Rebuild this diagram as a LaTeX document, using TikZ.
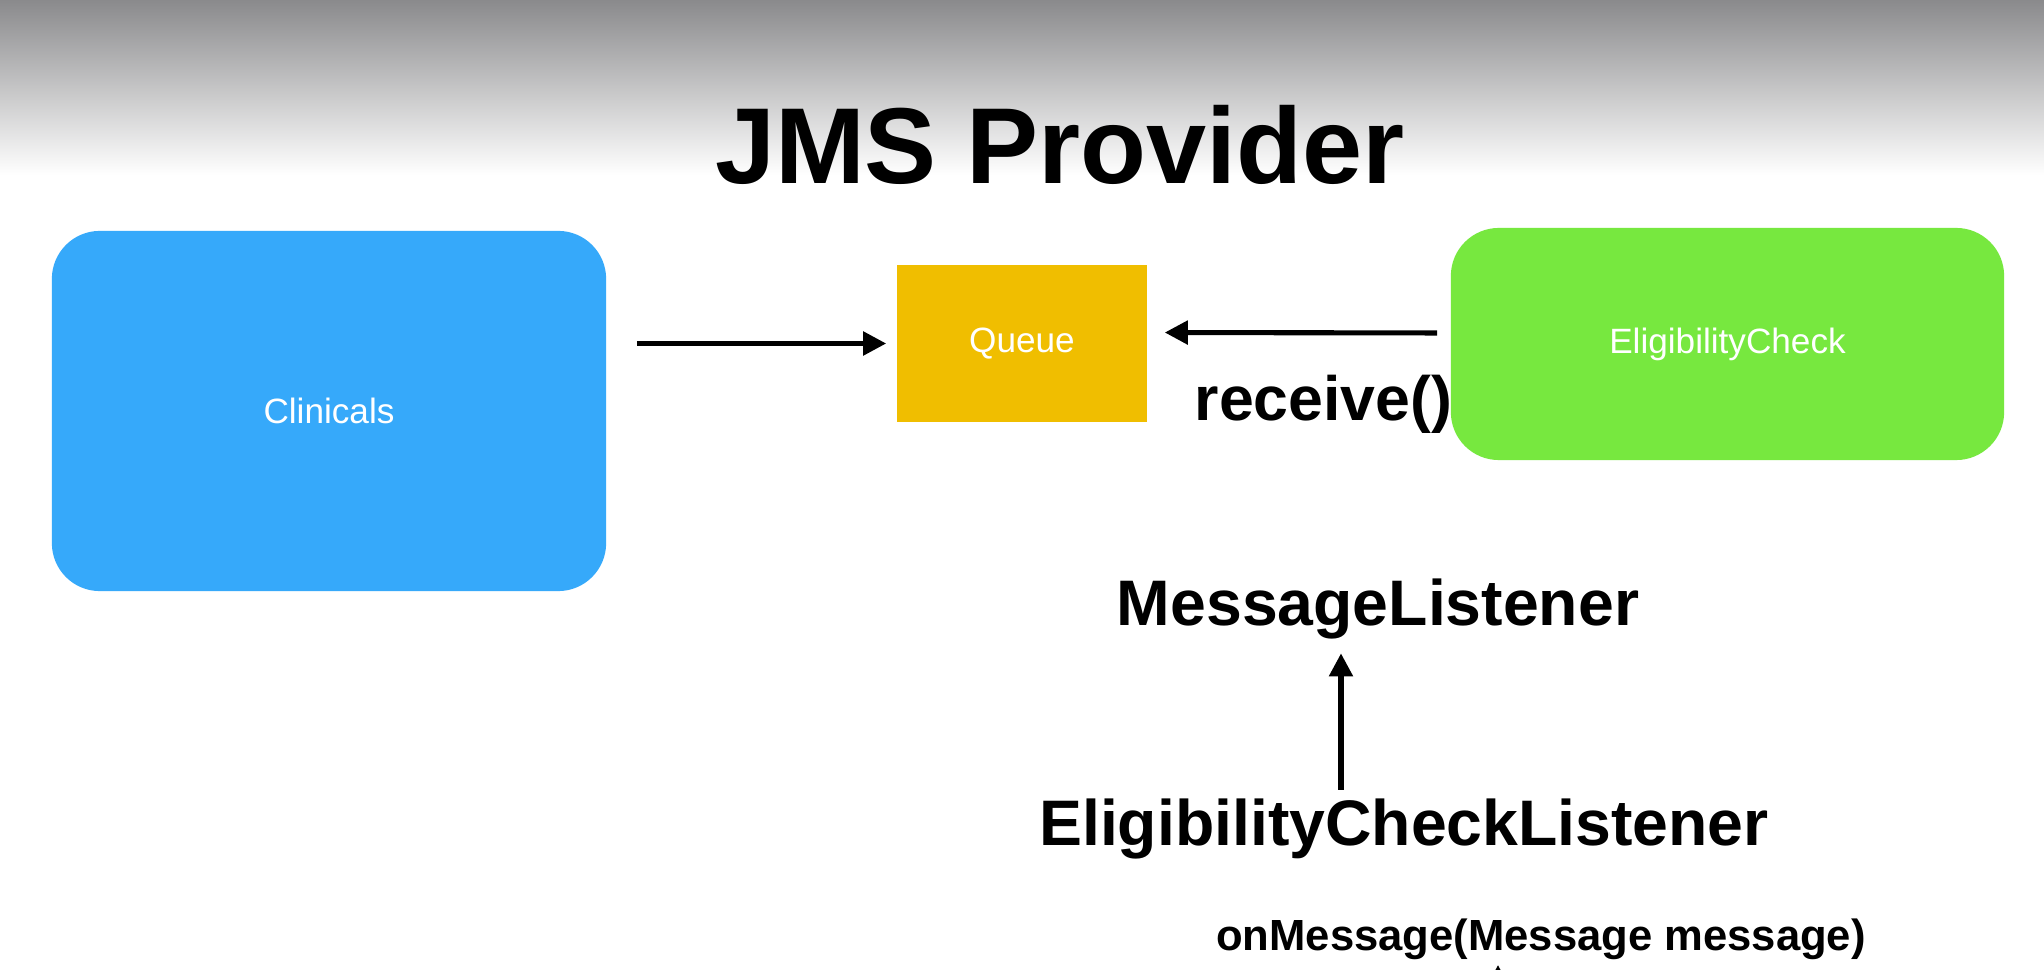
\documentclass[tikz,border=0pt]{standalone}
\usepackage{fontspec}
\setmainfont{Liberation Sans}
\usetikzlibrary{arrows.meta}
\definecolor{clinblue}{RGB}{54,169,250}
\definecolor{queuegold}{RGB}{240,190,0}
\definecolor{eliggreen}{RGB}{119,232,63}
\definecolor{topgray}{RGB}{138,138,140}

\begin{document}
\begin{tikzpicture}[x=0.01cm, y=-0.01cm,
	box/.style={rounded corners=0.48cm, text=white, font=\fontsize{10}{12}\selectfont, inner sep=0pt},
	lbl/.style={inner sep=0pt, anchor=base, font=\bfseries\fontsize{18.3}{22}\selectfont},
	flow/.style={line width=1.45pt, -{Triangle[length=0.23cm, width=0.23cm]}}]
\useasboundingbox (0,0) rectangle (2044,970);
\fill[white] (0,0) rectangle (2044,970);
\shade[top color=topgray, bottom color=white] (0,0) rectangle (2044,175);

\node[lbl, font=\bfseries\fontsize{30.7}{36}\selectfont] (title) at (1060,184) {JMS Provider};

% the three parties
\node[box, fill=clinblue, minimum width=5.54cm, minimum height=3.6cm] (clin) at (329,411) {Clinicals};
\node[box, rounded corners=0pt, fill=queuegold, minimum width=2.5cm, minimum height=1.57cm] (queue) at (1022,343.5) {Queue};
\node[box, fill=eliggreen, minimum width=5.53cm, minimum height=2.32cm] (elig) at (1727.5,344) {EligibilityCheck};
\node[lbl, anchor=base east, font=\bfseries\fontsize{17.8}{21}\selectfont] (recv) at (1453,420) {receive()};

\draw[flow, shorten <=0.3cm, shorten >=0.1cm] (clin.east |- queue.west) -- (queue.west);
\draw[flow, shorten <=0.13cm, shorten >=0.17cm] ([yshift=0.11cm]elig.west) -- ([yshift=0.11cm]queue.east);

% listener
\node[lbl] (ml) at (1378,625) {MessageListener};
\node[lbl] (ell) at (1404,845) {EligibilityCheckListener};
\node[lbl, font=\bfseries\fontsize{12.4}{15}\selectfont] (om) at (1541,950) {onMessage(Message message)};

\coordinate (up) at (1341,0);
\draw[flow, shorten <=0.08cm, shorten >=0.14cm] (up |- ell.north) -- (up |- ml.south);
\coordinate (omtail) at (1498,1080);
\draw[flow, shorten >=0.05cm] (omtail) -- (omtail |- om.south);
\end{tikzpicture}
\end{document}
